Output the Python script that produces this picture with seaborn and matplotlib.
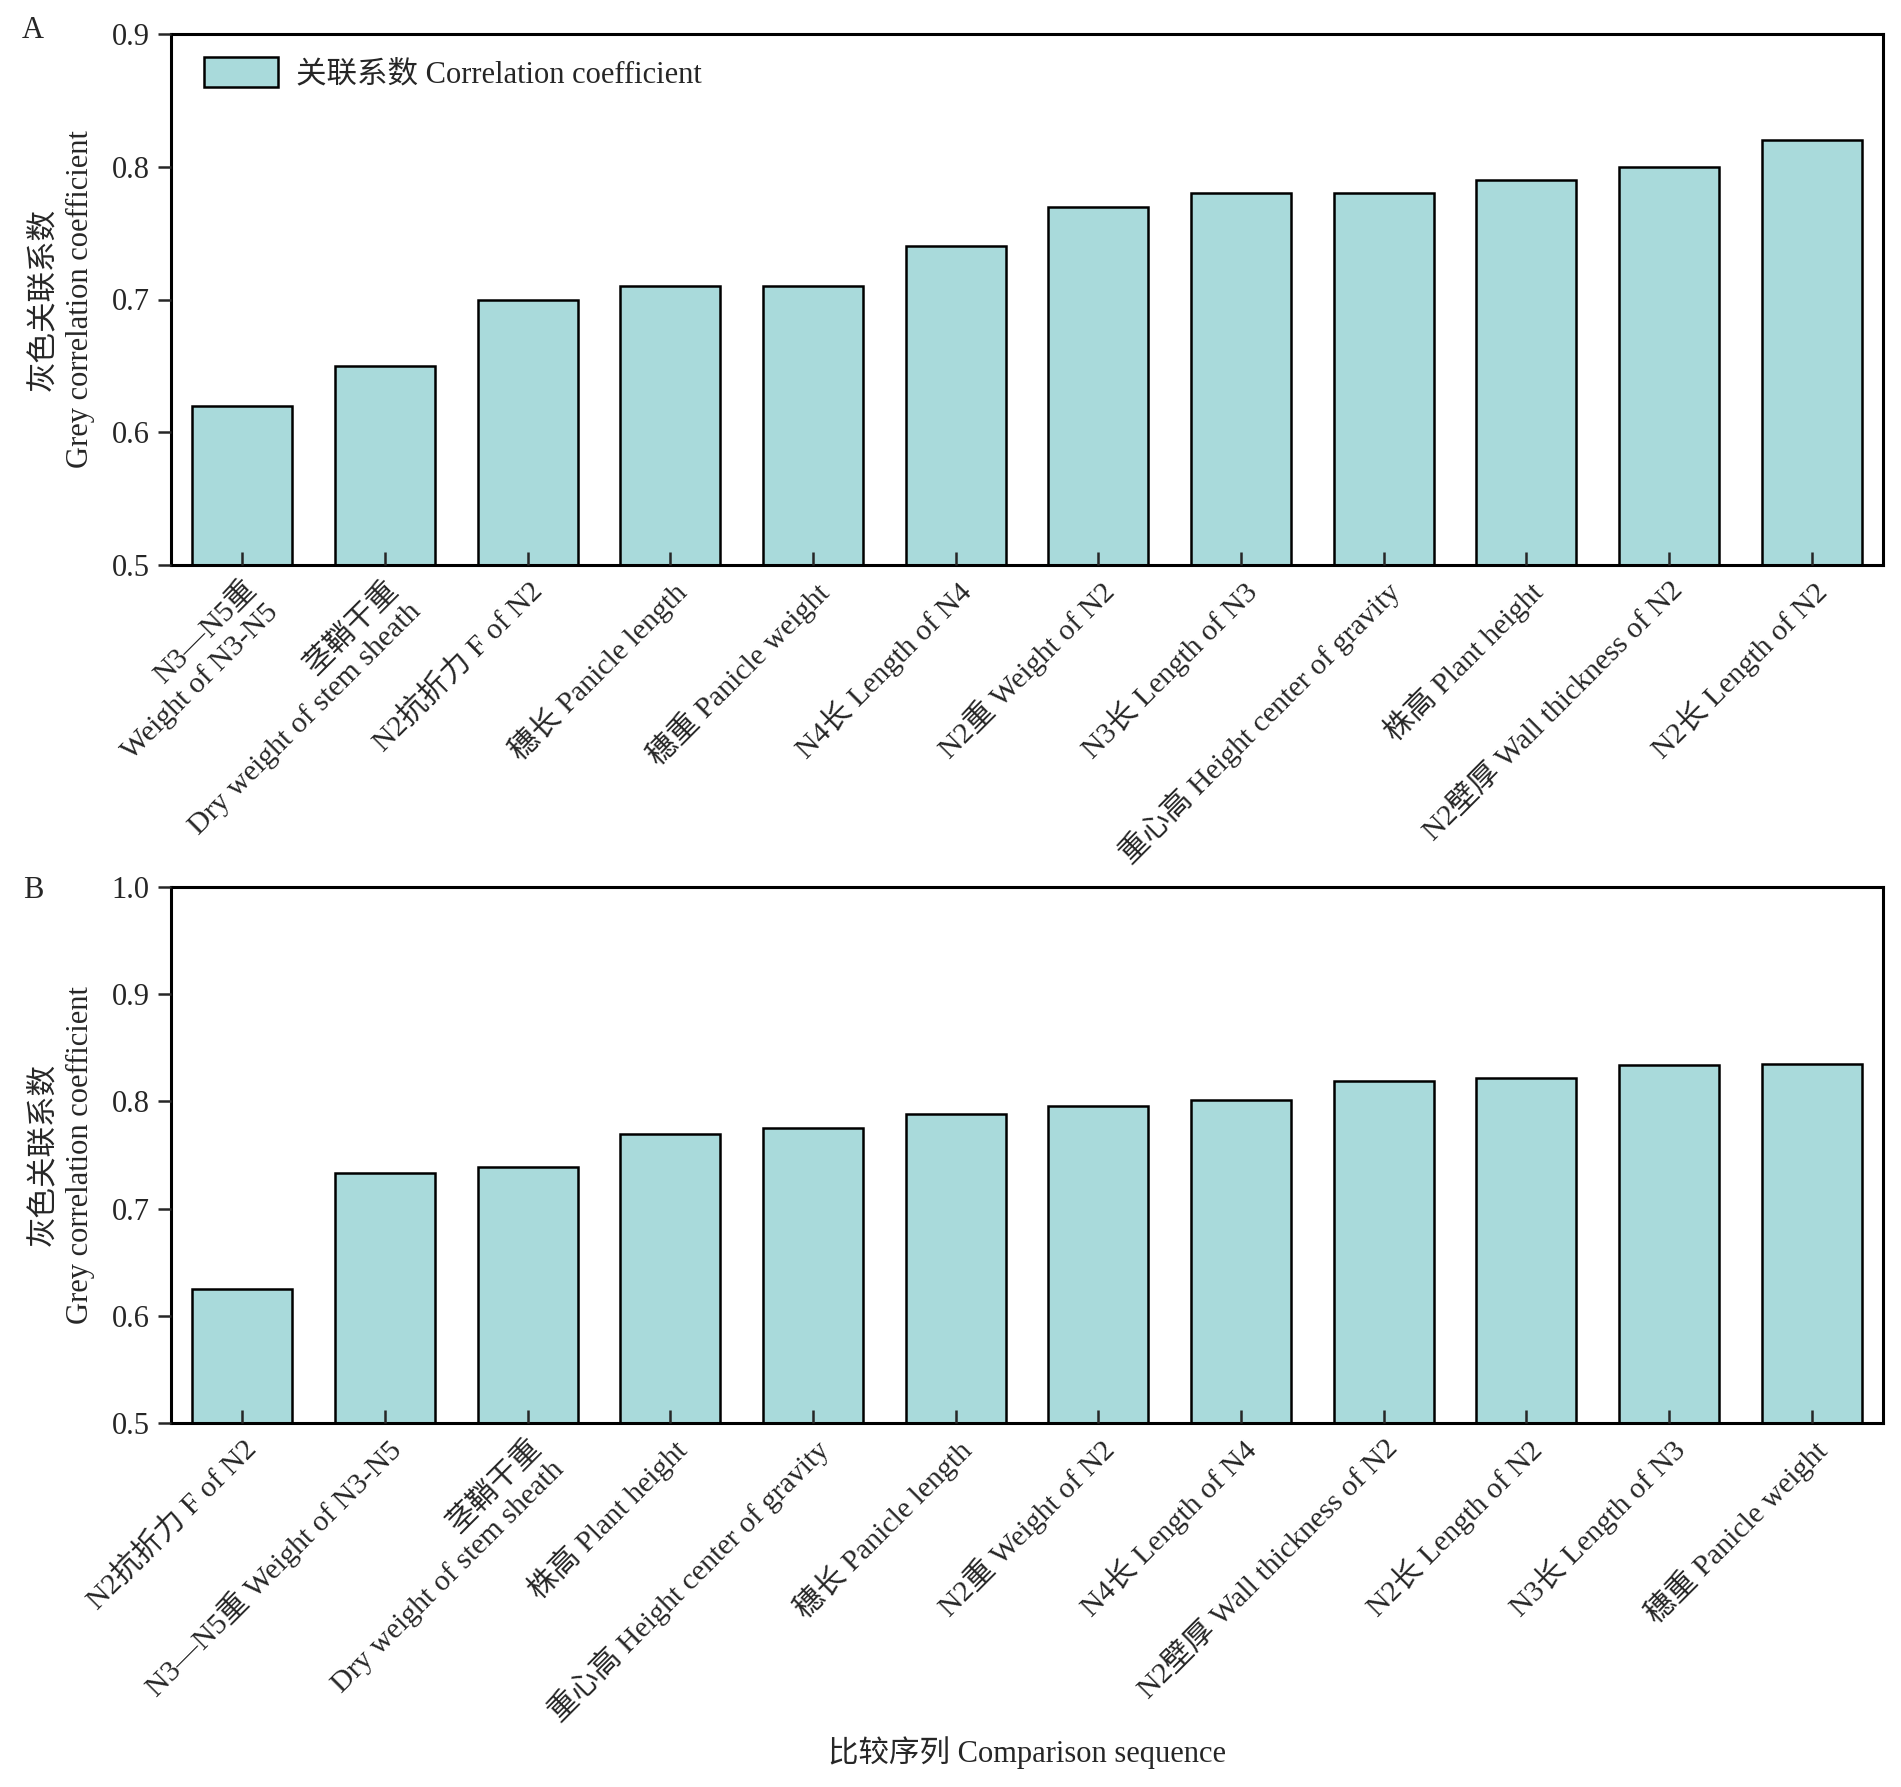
import numpy as np
import matplotlib
matplotlib.use("Agg")
import matplotlib.pyplot as plt
import matplotlib.transforms as mtransforms
import seaborn as sns

# panel A data
labels_a = ["N3—N5重\nWeight of N3-N5", "茎鞘干重\nDry weight of stem sheath", "N2抗折力 F of N2",
            "穗长 Panicle length", "穗重 Panicle weight", "N4长 Length of N4", "N2重 Weight of N2",
            "N3长 Length of N3", "重心高 Height center of gravity", "株高 Plant height",
            "N2壁厚 Wall thickness of N2", "N2长 Length of N2"]
values_a = [0.62, 0.65, 0.70, 0.71, 0.71, 0.74, 0.77, 0.78, 0.78, 0.79, 0.80, 0.82]
yticks_a = [0.5, 0.6, 0.7, 0.8, 0.9]

# panel B data
labels_b = ["N2抗折力 F of N2", "N3—N5重 Weight of N3-N5", "茎鞘干重\nDry weight of stem sheath",
            "株高 Plant height", "重心高 Height center of gravity", "穗长 Panicle length",
            "N2重 Weight of N2", "N4长 Length of N4", "N2壁厚 Wall thickness of N2",
            "N2长 Length of N2", "N3长 Length of N3", "穗重 Panicle weight"]
values_b = [0.625, 0.733, 0.739, 0.770, 0.775, 0.788, 0.796, 0.801, 0.819, 0.822, 0.834, 0.835]
yticks_b = [0.5, 0.6, 0.7, 0.8, 0.9, 1.0]

ylabel = "灰色关联系数\nGrey correlation coefficient"
xlabel = "比较序列 Comparison sequence"
legend_label = "关联系数 Correlation coefficient"
bar_color = "#A9DADB"

sns.set_style("ticks")
plt.rcParams["font.family"] = ["Liberation Serif", "Noto Sans CJK SC"]
plt.rcParams["font.size"] = 22
plt.rcParams["axes.axisbelow"] = False

fig = plt.figure(figsize=(19.01, 17.87), dpi=100)
W, H = 1901, 1787
ax_a = fig.add_axes([171 / W, 1 - 565 / H, (1883 - 171) / W, (565 - 34) / H])
ax_b = fig.add_axes([171 / W, 1 - 1423 / H, (1883 - 171) / W, (1423 - 887) / H])


def draw(ax, labels, values, yticks, with_legend):
    sns.barplot(x=labels, y=values, ax=ax, color=bar_color, saturation=1,
                edgecolor="black", linewidth=1.8, width=0.7,
                label=legend_label if with_legend else None)
    ax.set_axisbelow(False)
    ax.set_xlim(-0.5, len(labels) - 0.5)
    ax.set_ylim(yticks[0], yticks[-1])
    ax.set_yticks(yticks)
    ax.set_yticklabels([f"{t:.1f}" for t in yticks], fontsize=22)
    ax.set_xticks(range(len(labels)))
    ax.set_xticklabels(labels, rotation=45, ha="right", va="top",
                       rotation_mode="anchor", fontsize=21.5)
    offset = mtransforms.ScaledTranslation(16 / 100, -6 / 100, fig.dpi_scale_trans)
    for lab in ax.get_xticklabels():
        lab.set_transform(lab.get_transform() + offset)
    ax.tick_params(axis="x", direction="in", length=9.5, width=1.8, pad=8)
    ax.tick_params(axis="y", direction="out", length=9.5, width=1.8, pad=6)
    for sp in ax.spines.values():
        sp.set_visible(True)
        sp.set_linewidth(2.2)
        sp.set_color("black")
    ax.set_ylabel(ylabel, fontsize=22, labelpad=12, linespacing=1.35)
    ax.set_xlabel("")
    if with_legend:
        ax.legend(loc="upper left", frameon=False, fontsize=22,
                  handlelength=2.4, handleheight=1.15, borderaxespad=0.35,
                  handletextpad=0.6, bbox_to_anchor=(0.006, 1.0))


draw(ax_a, labels_a, values_a, yticks_a, True)
draw(ax_b, labels_b, values_b, yticks_b, False)

ax_b.set_xlabel(xlabel, fontsize=22)
ax_b.xaxis.set_label_coords(0.5, -0.585)

fig.text(33 / W, 1 - 30 / H, "A", fontsize=22, ha="center", va="center")
fig.text(33 / W, 1 - 891 / H, "B", fontsize=22, ha="center", va="center")

fig.savefig("out.png", dpi=100, facecolor="white")
